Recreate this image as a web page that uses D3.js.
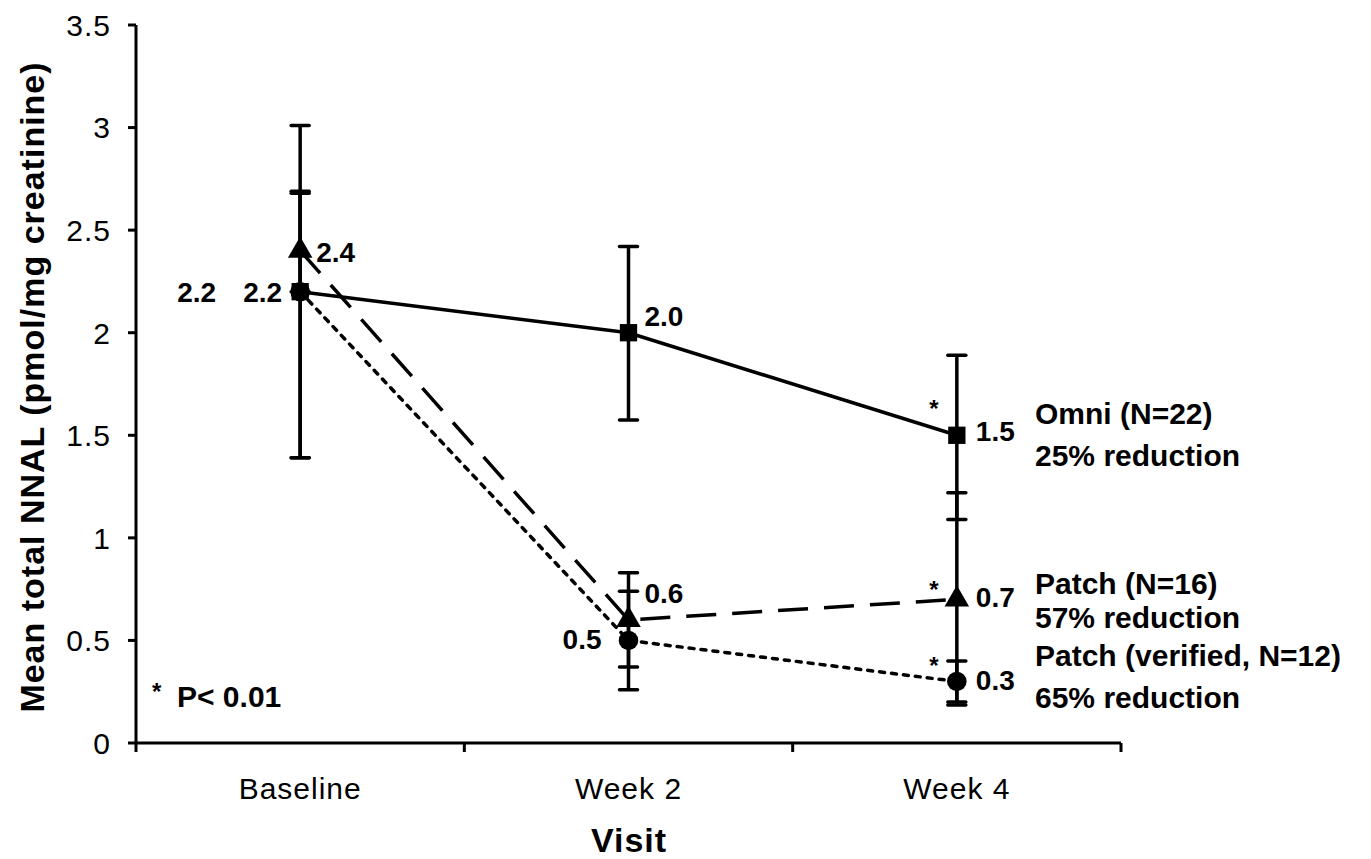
<!DOCTYPE html>
<html>
<head>
<meta charset="utf-8">
<script src="https://cdn.jsdelivr.net/npm/d3@7"></script>
<style>
  body { margin: 0; background: #fff; }
  svg { display: block; font-family: "Liberation Sans", Arial, sans-serif; }
</style>
</head>
<body>
<svg id="chart" width="1371" height="859"></svg>
<script>
// ---- data ----
const visits = ["Baseline", "Week 2", "Week 4"];
const yTicks = [0, 0.5, 1, 1.5, 2, 2.5, 3, 3.5];

const omniMean  = [2.2, 2.0, 1.5];
const omniLow   = [1.39, 1.575, 1.09];
const omniHigh  = [3.01, 2.42, 1.89];

const patchMean = [2.4, 0.6, 0.7];
const patchLow  = [2.2, 0.37, 0.185];
const patchHigh = [2.68, 0.83, 1.22];

const verMean   = [2.2, 0.5, 0.3];
const verLow    = [1.39, 0.26, 0.2];
const verHigh   = [2.69, 0.74, 0.40];

const omniLegend  = ["Omni (N=22)", "25% reduction"];
const patchLegend = ["Patch (N=16)", "57% reduction"];
const verLegend   = ["Patch (verified, N=12)", "65% reduction"];
const sigMark = "*";
const sigNote = "P< 0.01";

// ---- layout ----
const svg = d3.select("#chart");
const x = d3.scaleBand().domain(visits).range([136, 1121]);
const y = d3.scaleLinear().domain([0, 3.5]).range([743, 25]);
const cx = v => x(v) + x.bandwidth() / 2;

const series = [
  { name: "omni",  mean: omniMean,  low: omniLow,  high: omniHigh,  dash: null,    shape: "square",
    labels: [{dx: -84, dy: 0, anchor: "end"}, {dx: 16, dy: -17, anchor: "start"}, {dx: 19, dy: -4, anchor: "start"}],
    star: -31, legend: omniLegend, legendY: [424, 466] },
  { name: "patch", mean: patchMean, low: patchLow, high: patchHigh, dash: "30,16", shape: "triangle",
    labels: [{dx: 16, dy: 1, anchor: "start"}, {dx: 16, dy: -27, anchor: "start"}, {dx: 19, dy: -2, anchor: "start"}],
    star: -15, legend: patchLegend, legendY: [594, 628] },
  { name: "ver",   mean: verMean,   low: verLow,   high: verHigh,   dash: "5,7",   shape: "circle",
    labels: [{dx: -18, dy: 0, anchor: "end"}, {dx: -27, dy: -2, anchor: "end"}, {dx: 19, dy: -2, anchor: "start"}],
    star: -21, legend: verLegend, legendY: [666, 708] }
];

// axes
const axisG = svg.append("g").attr("stroke", "#000").attr("stroke-width", 3);
axisG.append("line").attr("x1", 136).attr("x2", 136).attr("y1", y(3.5)).attr("y2", y(0));
axisG.append("line").attr("x1", 136).attr("x2", 1121).attr("y1", y(0)).attr("y2", y(0));
yTicks.forEach(t => {
  axisG.append("line").attr("x1", 128).attr("x2", 136).attr("y1", y(t)).attr("y2", y(t));
});
visits.map(v => x(v)).concat([x.range()[1]]).forEach(px => {
  axisG.append("line").attr("x1", px).attr("x2", px).attr("y1", y(0)).attr("y2", y(0) + 9);
});

svg.append("g").selectAll("text").data(yTicks).join("text")
  .attr("x", 111).attr("y", d => y(d)).attr("dy", "0.36em")
  .attr("text-anchor", "end").attr("font-size", 30).attr("letter-spacing", 1)
  .text(d => d3.format("")(d));

svg.append("g").selectAll("text").data(visits).join("text")
  .attr("x", d => cx(d)).attr("y", 799)
  .attr("text-anchor", "middle").attr("font-size", 30).attr("letter-spacing", 1)
  .text(d => d);

svg.append("text")
  .attr("x", 629).attr("y", 852).attr("text-anchor", "middle")
  .attr("font-size", 34).attr("font-weight", "bold").attr("letter-spacing", 1)
  .text("Visit");

svg.append("text")
  .attr("transform", "translate(44,387) rotate(-90)")
  .attr("text-anchor", "middle")
  .attr("font-size", 34).attr("font-weight", "bold").attr("letter-spacing", 1)
  .text("Mean total NNAL (pmol/mg creatinine)");

// error bars
const errG = svg.append("g").attr("stroke", "#000").attr("stroke-width", 3.5);
series.forEach(s => {
  visits.forEach((v, i) => {
    const px = cx(v);
    errG.append("line").attr("x1", px).attr("x2", px).attr("y1", y(s.low[i])).attr("y2", y(s.high[i]));
    [s.low[i], s.high[i]].forEach(e => {
      errG.append("line").attr("x1", px - 9).attr("x2", px + 9).attr("y1", y(e)).attr("y2", y(e))
        .attr("stroke-linecap", "round");
    });
  });
});

// lines
const line = d3.line().x((d, i) => cx(visits[i])).y(d => y(d));
series.slice().reverse().forEach(s => {
  svg.append("path").datum(s.mean)
    .attr("fill", "none").attr("stroke", "#000").attr("stroke-width", 3.5)
    .attr("stroke-dasharray", s.dash)
    .attr("stroke-linecap", s.shape === "circle" ? "round" : "butt")
    .attr("d", line);
});

// markers
const sym = { square: d3.symbolSquare, triangle: d3.symbolTriangle, circle: d3.symbolCircle };
const symSize = { square: 300, triangle: 260, circle: 300 };
series.forEach(s => {
  svg.append("g").selectAll("path").data(s.mean).join("path")
    .attr("transform", (d, i) => `translate(${cx(visits[i])},${y(d)})`)
    .attr("d", d3.symbol().type(sym[s.shape]).size(symSize[s.shape]))
    .attr("fill", "#000");
});

// value labels
series.forEach(s => {
  svg.append("g").selectAll("text").data(s.mean).join("text")
    .attr("x", (d, i) => cx(visits[i]) + s.labels[i].dx)
    .attr("y", (d, i) => y(d) + s.labels[i].dy)
    .attr("dy", "0.36em")
    .attr("text-anchor", (d, i) => s.labels[i].anchor)
    .attr("font-size", 28).attr("font-weight", "bold")
    .text(d => d3.format(".1f")(d));
});

// significance stars at week 4
series.forEach(s => {
  const last = s.mean.length - 1;
  svg.append("text")
    .attr("x", cx(visits[last]) - 23).attr("y", y(s.mean[last]) + s.star)
    .attr("dy", "0.55em").attr("text-anchor", "middle")
    .attr("font-size", 24).attr("font-weight", "bold")
    .text(sigMark);
});

// series legends
series.forEach(s => {
  s.legend.forEach((t, j) => {
    svg.append("text")
      .attr("x", 1035).attr("y", s.legendY[j])
      .attr("font-size", 30).attr("font-weight", "bold")
      .text(t);
  });
});

// p-value note
svg.append("text").attr("x", 152).attr("y", 700)
  .attr("font-size", 24).attr("font-weight", "bold").text(sigMark);
svg.append("text").attr("x", 177).attr("y", 707)
  .attr("font-size", 30).attr("font-weight", "bold").text(sigNote);
</script>
</body>
</html>
